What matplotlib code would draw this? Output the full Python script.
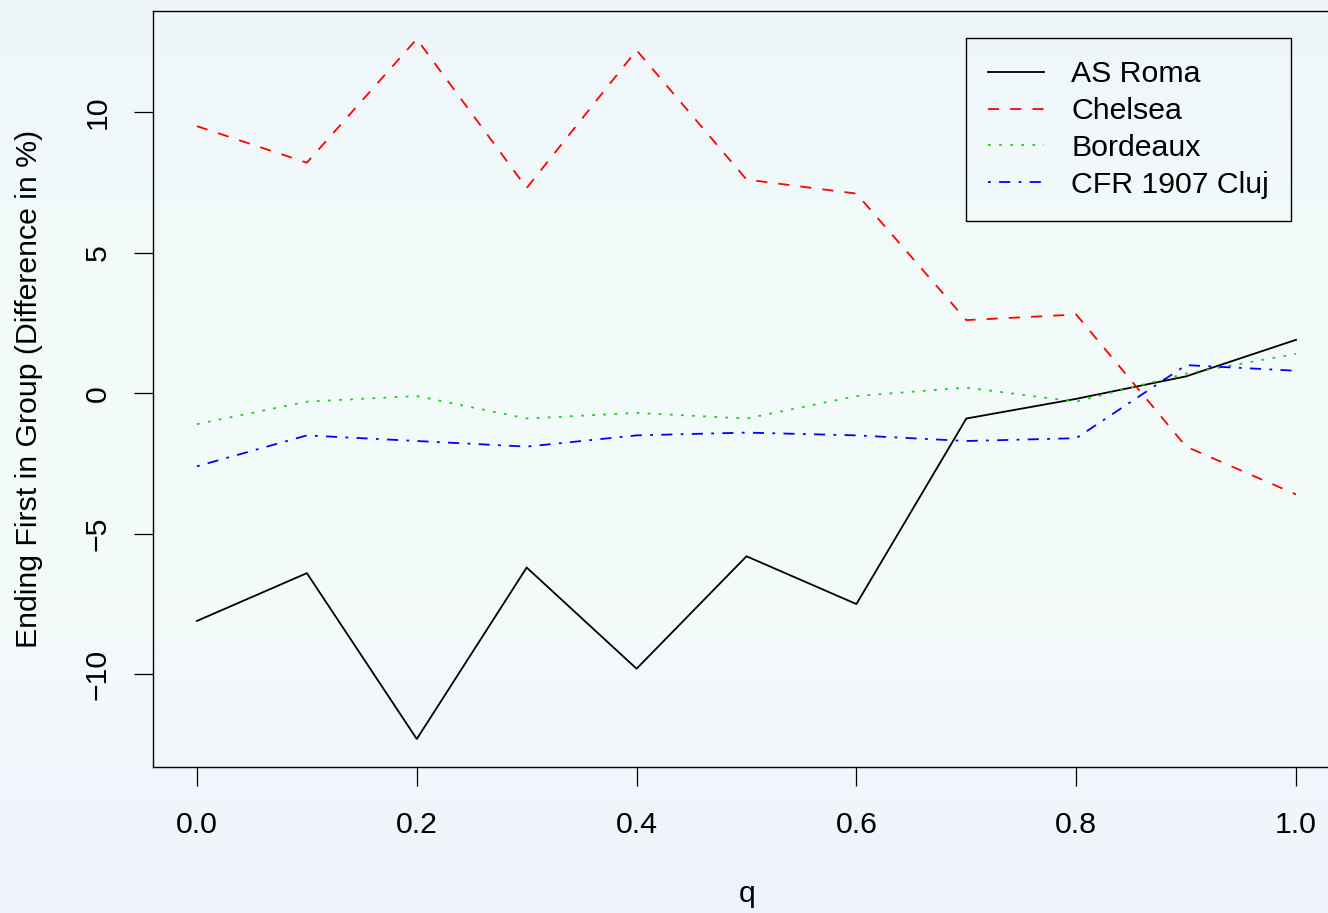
import numpy as np
import matplotlib
matplotlib.use("Agg")
import matplotlib.pyplot as plt
from matplotlib.colors import LinearSegmentedColormap

plt.rcParams['font.family'] = ['Liberation Sans', 'DejaVu Sans']
plt.rcParams['lines.scale_dashes'] = False

# values
q = [0.0, 0.1, 0.2, 0.3, 0.4, 0.5, 0.6, 0.7, 0.8, 0.9, 1.0]
roma = [-8.1, -6.4, -12.3, -6.2, -9.8, -5.8, -7.5, -0.9, -0.2, 0.6, 1.9]
chelsea = [9.5, 8.2, 12.6, 7.3, 12.2, 7.6, 7.1, 2.6, 2.8, -1.9, -3.6]
bordeaux = [-1.1, -0.3, -0.1, -0.9, -0.7, -0.9, -0.1, 0.2, -0.3, 0.7, 1.4]
cluj = [-2.6, -1.5, -1.7, -1.9, -1.5, -1.4, -1.5, -1.7, -1.6, 1.0, 0.8]
labels = ['AS Roma', 'Chelsea', 'Bordeaux', 'CFR 1907 Cluj']

W, H = 1328, 913
fs = 21.8
fig = plt.figure(figsize=(W / 100, H / 100), dpi=100)

# background gradient (pale blue -> mint -> pale blue)
bg = fig.add_axes([0, 0, 1, 1], zorder=-1)
cmap = LinearSegmentedColormap.from_list('bg', ['#eff6fb', '#f2fbf9', '#f4fbfa', '#eef3fc'])
bg.imshow(np.linspace(0, 1, 256).reshape(-1, 1), aspect='auto', cmap=cmap,
          extent=[0, 1, 0, 1], origin='upper')
bg.axis('off')

# plot region extends a bit beyond the right edge, like the original
ax = fig.add_axes([153 / W, 1 - 767 / H, (1340 - 153) / W, (767 - 11) / H])
ax.set_facecolor('none')

lw = 1.3
ax.plot(q, roma, color='black', lw=lw, label=labels[0])
ax.plot(q, chelsea, color='red', lw=lw, dashes=(8, 8), label=labels[1])
ax.plot(q, bordeaux, color='#22cc22', lw=lw, dashes=(2, 6), label=labels[2])
ax.plot(q, cluj, color='blue', lw=lw, dashes=(2, 6, 8, 6), label=labels[3])

ymin, ymax = min(roma), max(chelsea)
r = ymax - ymin
ax.set_xlim(-0.04, 1.04)
ax.set_ylim(ymin - 0.04 * r, ymax + 0.04 * r)

ax.set_xticks([0.0, 0.2, 0.4, 0.6, 0.8, 1.0])
ax.set_xticklabels(['0.0', '0.2', '0.4', '0.6', '0.8', '1.0'])
ax.set_yticks([-10, -5, 0, 5, 10])
ax.tick_params(axis='both', labelsize=fs, length=13.7, width=0.9, direction='out')
ax.tick_params(axis='x', pad=18)
ax.tick_params(axis='y', pad=16)
for t in ax.get_yticklabels():
    t.set_rotation(90)
    t.set_va('center')
for s in ax.spines.values():
    s.set_linewidth(1.0)

fig.text(29 / W, 1 - 389 / H, 'Ending First in Group (Difference in %)',
         rotation=90, ha='center', va='center', fontsize=fs)
fig.text(747 / W, 1 - 902 / H, 'q', ha='center', va='baseline', fontsize=fs)

leg = ax.legend(loc='upper left', bbox_to_anchor=(966 / W, 1 - 38 / H),
                bbox_transform=fig.transFigure, fontsize=fs, fancybox=False,
                framealpha=1, edgecolor='black', handlelength=1.85,
                handletextpad=0.88, borderpad=0.74, labelspacing=0.29,
                borderaxespad=0)
leg.get_frame().set_facecolor('none')
leg.get_frame().set_linewidth(1.0)

fig.savefig('out.png', dpi=100)
